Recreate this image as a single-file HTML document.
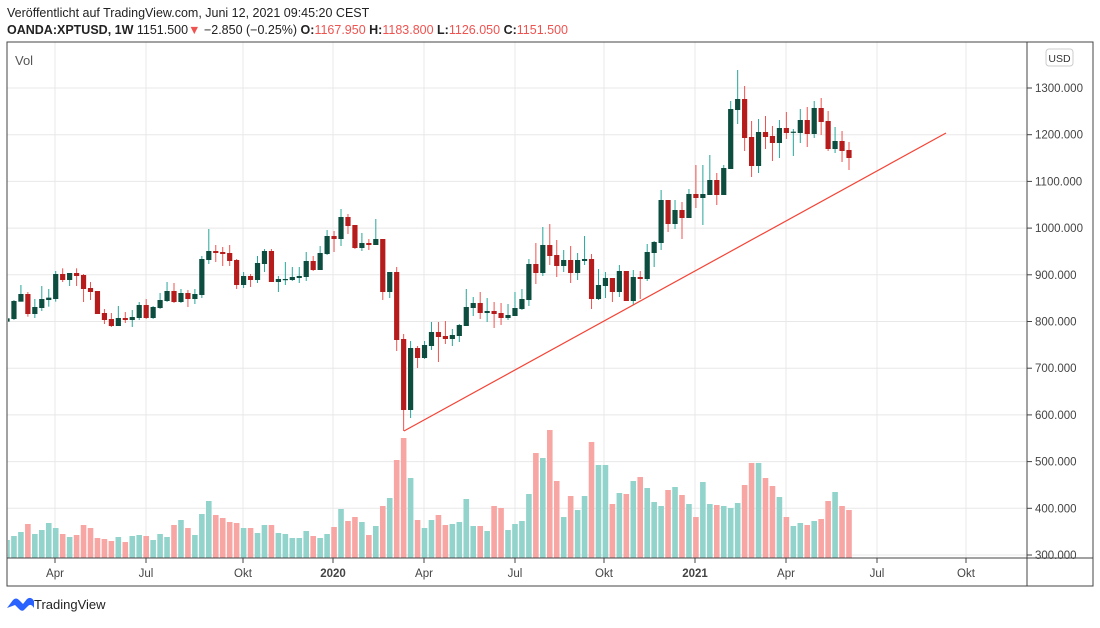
<!DOCTYPE html>
<html><head><meta charset="utf-8"><style>
body{margin:0;background:#fff;width:1100px;height:623px;overflow:hidden;font-family:"Liberation Sans",sans-serif}
</style></head><body>
<svg id="s" width="1100" height="623" xmlns="http://www.w3.org/2000/svg" font-family="Liberation Sans, sans-serif">
<text x="7" y="17" font-size="12.5" fill="#222">Veröffentlicht auf TradingView.com, Juni 12, 2021 09:45:20 CEST</text>
<text x="7" y="34" font-size="12.5" fill="#222"><tspan font-weight="bold">OANDA:XPTUSD, 1W</tspan> 1151.500<tspan fill="#ef5350">▼</tspan> −2.850 (−0.25%) <tspan font-weight="bold">O:</tspan><tspan fill="#ef5350">1167.950</tspan> <tspan font-weight="bold">H:</tspan><tspan fill="#ef5350">1183.800</tspan> <tspan font-weight="bold">L:</tspan><tspan fill="#ef5350">1126.050</tspan> <tspan font-weight="bold">C:</tspan><tspan fill="#ef5350">1151.500</tspan></text>
<g id="grid"></g>
<g id="vol"></g>
<g id="cdl"></g>
<line x1="404" y1="431" x2="946" y2="133" stroke="#f44336" stroke-width="1.2"/>
<rect x="7" y="42" width="1086" height="544" fill="none" stroke="#444" stroke-width="1"/>
<line x1="1027" y1="42" x2="1027" y2="586" stroke="#444"/>
<line x1="7" y1="558" x2="1093" y2="558" stroke="#444"/>
<text x="15" y="65" font-size="13" fill="#555">Vol</text>
<rect x="1046" y="49" width="27" height="17" rx="3" fill="#fff" stroke="#ccc"/>
<text x="1059.5" y="62" font-size="10.5" fill="#333" text-anchor="middle">USD</text>
<g id="ax" font-size="11.5" fill="#444"></g>
<g transform="translate(7,596)"><path d="M0 12 L6 4 Q9 1 12 4 L16 8 L20 3 Q24 0 27 5 L27 12 Q24 7 21 10 L17 14 Q15 16 12 13 L8 9 Z" fill="#2962ff"/></g>
<text x="34" y="609" font-size="13" fill="#222">TradingView</text>
</svg>
<script>
var NS="http://www.w3.org/2000/svg";
function el(p,t,a){var e=document.createElementNS(NS,t);for(var k in a)e.setAttribute(k,a[k]);p.appendChild(e);return e;}
var grid=document.getElementById('grid'),ax=document.getElementById('ax');
var prices=[1300,1200,1100,1000,900,800,700,600,500,400,300];
prices.forEach(function(p,i){var y=88+i*46.7;
 el(grid,'line',{x1:7,x2:1027,y1:y,y2:y,stroke:'#e8e8e8'});
 el(ax,'line',{x1:1027,x2:1032,y1:y,y2:y,stroke:'#444'});
 var t=el(ax,'text',{x:1035,y:y+4});t.textContent=p+'.000';});
var tl=[['Apr',55],['Jul',146],['Okt',243],['2020',333],['Apr',424],['Jul',515],['Okt',604],['2021',695],['Apr',786],['Jul',877],['Okt',966]];
tl.forEach(function(a){el(grid,'line',{x1:a[1],x2:a[1],y1:42,y2:558,stroke:'#e8e8e8'});
 el(ax,'line',{x1:a[1],x2:a[1],y1:558,y2:563,stroke:'#444'});
 var t=el(ax,'text',{x:a[1],y:577,'text-anchor':'middle'});t.textContent=a[0];
 if(/20/.test(a[0]))t.setAttribute('font-weight','bold');});
var A=[[355,365,355,395,1],[303,357,300,360,1],[282,305,255,305,1],[282,342,276,350,0],[321,342,297,354,1],[297,324,258,333,1],[293,300,267,320,1],[222,297,213,305,1],[222,240,205,246,0],[219,240,219,258,1],[219,228,205,258,0],[225,267,222,306,0],[264,276,246,300,0],[273,342,273,342,0],[339,360,327,372,0],[357,378,339,381,0],[354,378,318,378,1],[354,360,336,369,0],[351,360,330,381,1],[315,354,306,360,1],[315,354,297,357,0],[321,354,318,357,1],[300,324,279,327,1],[273,303,246,306,1],[273,306,249,309,0],[279,306,267,309,1],[279,297,270,321,0],[282,297,267,312,1],[177,285,168,294,1],[153,180,87,192,1],[153,159,135,186,0],[156,162,141,198,0],[159,183,135,198,0],[180,255,177,267,0],[228,255,216,264,1],[228,240,222,261,0],[189,240,168,249,1],[153,192,147,216,1],[153,246,147,246,0],[237,246,228,276,1],[237,240,186,255,1],[231,240,201,243,1],[228,234,201,249,1]];
var B=[[183,231,156,243,1],[183,210,168,213,0],[159,210,138,210,1],[108,162,90,165,1],[108,117,93,156,0],[51,117,27,138,1],[51,78,42,102,0],[75,144,75,147,0],[129,144,99,153,1],[129,135,117,150,0],[117,135,57,135,1],[117,276,117,300,0],[216,276,216,294,1],[216,420,201,453,0],[417,630,402,693,0],[444,630,423,654,1],[444,474,438,504,0],[435,474,423,477,1],[396,438,366,450,1],[396,411,366,486,0],[408,417,363,432,0],[405,417,387,438,1],[375,408,372,426,1],[321,378,267,378,1],[309,324,291,348,1],[309,339,276,357,0],[333,339,294,366,1],[333,342,306,384,0],[339,354,309,375,0],[345,354,312,360,1],[324,348,276,348,1],[297,327,267,330,1],[192,300,177,318,1],[192,219,129,252,0],[135,219,81,228,1],[135,168,72,195,0],[165,198,120,231,0],[180,198,150,216,1],[180,219,138,249,0],[180,219,159,240,1],[177,183,108,195,1],[177,297,162,327,0],[255,297,207,300,1]];
var C=[[654,678,636,714,1],[654,696,654,726,0],[633,696,615,711,1],[633,723,633,723,0],[651,723,630,735,1],[651,657,633,717,0],[576,657,552,663,1],[546,579,543,621,1],[420,549,390,570,1],[420,492,420,516,0],[450,492,420,507,1],[450,474,426,537,0],[402,474,387,474,1],[402,414,315,444,0],[402,414,315,495,1],[360,405,285,405,1],[360,405,339,435,0],[324,405,315,405,1],[147,327,123,327,1],[117,150,30,192,1],[117,234,78,273,0],[231,318,183,351,0],[216,318,177,339,1],[216,231,168,267,0],[228,249,198,303,0],[204,249,180,294,1],[204,219,156,237,0],[215,217,207,288,1],[180,219,147,249,1],[180,222,141,261,0],[144,222,123,234,1],[144,186,114,225,0],[183,267,153,273,0],[243,267,201,279,1],[243,273,213,306,0],[270,294,246,330,0]];
var cd=[];
A.forEach(function(a){cd.push([a[0]/3+200,a[1]/3+200,a[2]/3+200,a[3]/3+200,a[4]]);});
B.forEach(function(a){cd.push([a[0]/3+200,a[1]/3+200,a[2]/3+200,a[3]/3+200,a[4]]);});
C.forEach(function(a){cd.push([a[0]/3+60,a[1]/3+60,a[2]/3+60,a[3]/3+60,a[4]]);});
var VA=[1020,1008,996,972,1002,990,969,984,1002,1011,1005,975,984,1014,1017,1023,1011,1026,1008,1005,1008,1020,1002,1011,975,960,984,1005,942,903,945,954,966,969,984,984,999,975,975,999,1002,1014,1014,993,1008,1014,1002,981,927,963,951,966,1005,978,918,894,780,714,834,960,984,960,945,975,972,966,897,978,978,993,918,924,990,972,963,882,759,774,690,843,951,888,930,888,726,795];
var VC=[1215,1332,1299,1302,1263,1251,1284,1326,1338,1290,1281,1305,1332,1371,1266,1332,1335,1338,1344,1329,1275,1209,1209,1254,1278,1311,1371,1398,1389,1395,1383,1377,1323,1296,1338,1350,1353];
var vy=VA.map(function(v){return v/3+200;}).concat(VC.map(function(v){return v/3+60;}));
var N=cd.length,cg=document.getElementById('cdl'),vg=document.getElementById('vol');
for(var k=0;k<N;k++){var x=7+842*k/(N-1),c=cd[k],g=c[4];
 var vt=vy[k]; if(vt!==undefined){var vx0=Math.max(8,x-2.8);el(vg,'rect',{x:vx0,y:vt,width:x+2.8-vx0,height:558-vt,fill:g?'#92d4cc':'#f7a6a4'});}
 el(cg,'line',{x1:x,x2:x,y1:c[2],y2:c[3],stroke:g?'#26a69a':'#ef5350','stroke-width':1});
 var bx0=Math.max(8,x-2.6);el(cg,'rect',{x:bx0,y:c[0],width:x+2.6-bx0,height:Math.max(1.2,c[1]-c[0]),fill:g?'#0c4d3f':'#b71c1c'});}
</script>
</body></html>
